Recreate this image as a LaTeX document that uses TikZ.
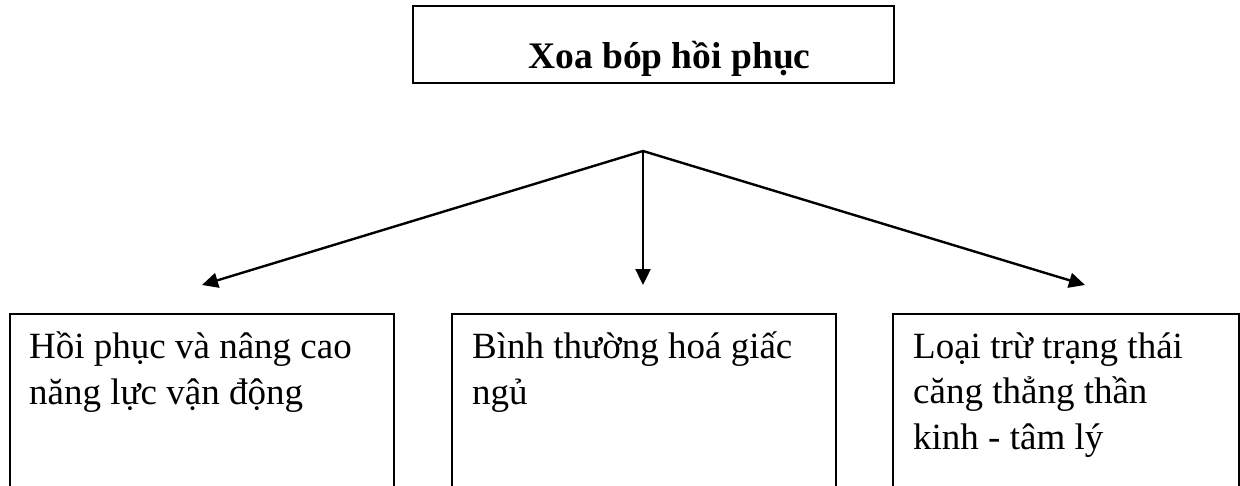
\documentclass[tikz,border=0pt]{standalone}
\usepackage{fontspec}
\setmainfont{Liberation Serif}
\usetikzlibrary{arrows.meta}
\tikzset{
  box/.style={draw=black, line width=2pt, inner sep=0pt, anchor=north west},
  conn/.style={line width=2.4pt, -{Triangle[length=16pt,width=15pt]}},
  body/.style={anchor=base west, inner sep=0pt, align=left, font=\fontsize{37}{45.5}\selectfont},
}
\begin{document}
\begin{tikzpicture}[x=1pt,y=-1pt]
\useasboundingbox (0,0) rectangle (1240,485);
\clip (0,0) rectangle (1240,485);
% top box
\node[box, minimum width=481pt, minimum height=77pt] (top) at (412,5) {};
\node[anchor=base west, inner sep=0pt, font=\fontsize{37.5}{46}\selectfont\bfseries] (toptext) at (528,68) {Xoa bóp hồi phục};
% apex and arrow tips
\coordinate (apex) at (643,151);
\coordinate (tipL) at (202,285);
\coordinate (tipM) at (643,285);
\coordinate (tipR) at (1085,285);
\draw[conn] (apex) -- (tipL);
\draw[conn] (apex) -- (tipM);
\draw[conn] (apex) -- (tipR);
% bottom boxes
\node[box, minimum width=384pt, minimum height=250pt] (b1) at (9,313) {};
\node[box, minimum width=384pt, minimum height=250pt] (b2) at (451,313) {};
\node[box, minimum width=346pt, minimum height=250pt] (b3) at (892,313) {};
% text: base anchor is the last line's baseline
\node[body] (t1) at (29,404) {Hồi phục và nâng cao\\năng lực vận động};
\node[body] (t2) at (472,404) {Bình thường hoá giấc\\ngủ};
\node[body] (t3) at (913,449) {Loại trừ trạng thái\\căng thẳng thần\\kinh - tâm lý};
\end{tikzpicture}
\end{document}
